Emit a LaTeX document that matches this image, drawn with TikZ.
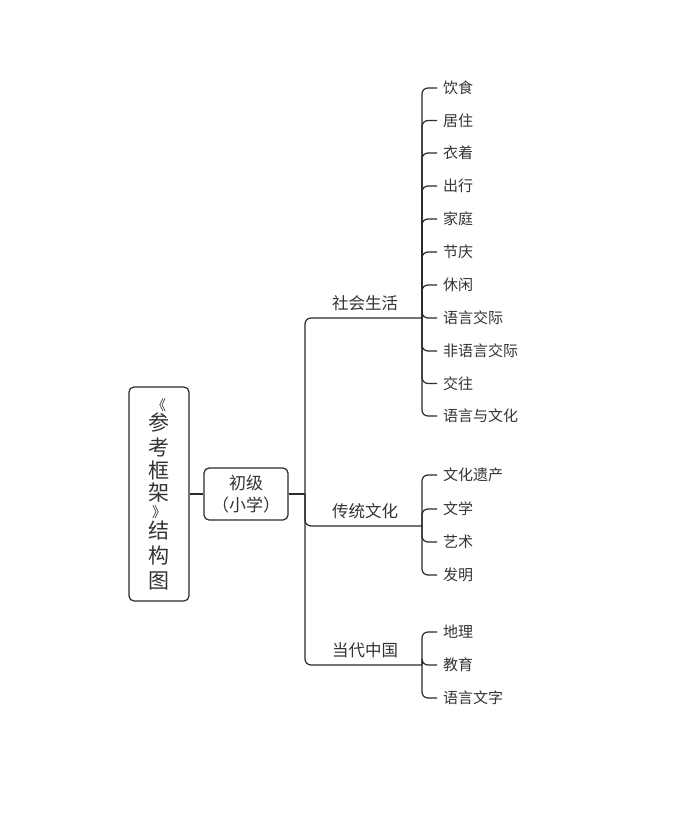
\documentclass[tikz,border=0pt]{standalone}
\usepackage{fontspec}
\setmainfont{Noto Sans CJK SC}
\definecolor{ln}{HTML}{2B2B2B}
\definecolor{tx}{HTML}{333333}
\newcommand{\brk}[1]{{\fontsize{14}{25}\selectfont #1}}
\tikzset{
  box/.style={draw=ln, line width=1.2pt, rounded corners=5pt, fill=white, align=center, text=tx},
  leaf/.style={anchor=west, inner xsep=6pt, inner ysep=0pt, text=tx, font=\fontsize{15}{16}\selectfont},
  branch/.style={text=tx, inner sep=0pt, font=\fontsize{16.5}{18}\selectfont},
  wire/.style={draw=ln, line width=1.2pt, rounded corners=6pt}
}
\begin{document}
\begin{tikzpicture}[x=1pt,y=-1pt]
\fill[white] (0,0) rectangle (673,813);
\useasboundingbox (0,0) rectangle (673,813);

\node[box, minimum width=60pt, minimum height=214pt, font=\fontsize{21}{25}\selectfont] (root) at (159,494)
  {\brk{《}\\[-5pt]参\\[0pt]考\\[-2pt]框\\[-3pt]架\\[-8pt]\brk{》}\\[-4pt]结\\[0pt]构\\[0pt]图};
\node[box, minimum width=84pt, minimum height=52pt, inner sep=0pt, font=\fontsize{17}{22}\selectfont] (lvl) at (246,494)
  {初级\\（小学）};

\coordinate (j) at (305,494);
\draw[wire] (root.east) -- (lvl.west);
\draw[wire] (lvl.east) -- (j);

% branch labels and bracket points
\node[branch] (b1) at (365,303) {社会生活};
\node[branch] (b2) at (365,511) {传统文化};
\node[branch] (b3) at (365,650) {当代中国};
\coordinate (e1) at (422,318);
\coordinate (e2) at (422,526);
\coordinate (e3) at (422,665);

\draw[wire] (j) |- (e1);
\draw[wire] (j) |- (e2);
\draw[wire] (j) |- (e3);

% leaves of branch 1
\foreach \n/\y/\t in {a1/88/饮食, a2/120.5/居住, a3/153/衣着, a4/186/出行, a5/219/家庭, a6/252/节庆, a7/285/休闲, a8/318/语言交际, a9/351/非语言交际, a10/383.5/交往, a11/416/语言与文化}{
  \node[leaf] (\n) at (437,\y) {\t};
  \draw[wire] (e1) |- (\n.west);
}
% leaves of branch 2
\foreach \n/\y/\t in {c1/475/文化遗产, c2/509/文学, c3/542/艺术, c4/575/发明}{
  \node[leaf] (\n) at (437,\y) {\t};
  \draw[wire] (e2) |- (\n.west);
}
% leaves of branch 3
\foreach \n/\y/\t in {d1/632/地理, d2/665/教育, d3/698/语言文字}{
  \node[leaf] (\n) at (437,\y) {\t};
  \draw[wire] (e3) |- (\n.west);
}
\end{tikzpicture}
\end{document}
